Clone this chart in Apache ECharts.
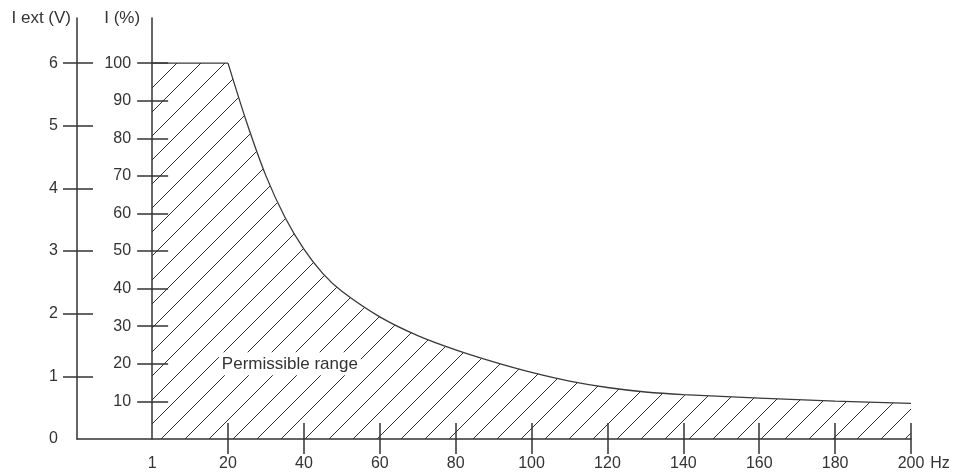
<!DOCTYPE html>
<html>
<head>
<meta charset="utf-8">
<script src="https://cdn.jsdelivr.net/npm/echarts@6/dist/echarts.min.js"></script>
<style>
  html, body { margin: 0; padding: 0; background: #fff; }
  #chart { width: 957px; height: 476px; }
</style>
</head>
<body>
<div id="chart"></div>
<script>
// ---- data ----
const freqTicks = [20, 40, 60, 80, 100, 120, 140, 160, 180, 200];
const freqLabels = [0, 20, 40, 60, 80, 100, 120, 140, 160, 180, 200];
const voltTicks = [1, 2, 3, 4, 5, 6];
const voltLabels = [0, 1, 2, 3, 4, 5, 6];
const pctTicks = [10, 20, 30, 40, 50, 60, 70, 80, 90, 100];

// flat part of the permissible range
const flatFreq = [0, 20];
const flatPct = [100, 100];
// falling part
const curveFreq = [20, 25, 30, 35, 40, 45, 50, 60, 70, 80, 90, 100, 110, 120, 130, 140, 160, 180, 200];
const curvePct  = [100, 84, 70, 59, 50.5, 44, 39.3, 32.5, 27.5, 23.7, 20.5, 17.7, 15.4, 13.7, 12.5, 11.8, 10.9, 10.1, 9.5];

const rangeLabel = 'Permissible range';
const rangeLabelPos = [36.3, 20];

// ---- chart ----
const INK = '#333';
const FONT = '"Liberation Sans", Arial, Helvetica, sans-serif';

function hatch() {
  const s = 24;
  const c = document.createElement('canvas');
  c.width = s; c.height = s;
  const g = c.getContext('2d');
  g.strokeStyle = '#333';
  g.lineWidth = 1;
  g.beginPath();
  g.moveTo(-2, s + 2); g.lineTo(s + 2, -2);
  g.moveTo(-2, 2); g.lineTo(2, -2);
  g.moveTo(s - 2, s + 2); g.lineTo(s + 2, s - 2);
  g.stroke();
  return c;
}
const pattern = { image: hatch(), repeat: 'repeat' };

const axisLine = { show: true, onZero: false, lineStyle: { color: INK, width: 1.5 } };
const hiddenLine = { show: false, onZero: false };
const tickStyle = { color: INK, width: 1.5 };

const W = 957, GL = 77, GR = 46;
const X_MIN = -19.8, X_MAX = 200;
const V_MAX = 6.72, P_MAX = 112;
// inner axis sits at frequency "1" (value 0)
const innerOffset = -((W - GL - GR) * (0 - X_MIN) / (X_MAX - X_MIN));

const chart = echarts.init(document.getElementById('chart'), null, { renderer: 'canvas' });
chart.setOption({
  animation: false,
  backgroundColor: '#fff',
  textStyle: { fontFamily: FONT },
  grid: { left: GL, right: GR, top: 18, bottom: 37, containLabel: false },
  xAxis: [
    {
      type: 'value', min: X_MIN, max: X_MAX, position: 'bottom',
      axisLine: axisLine,
      axisTick: { show: true, customValues: freqTicks, length: 15, lineStyle: tickStyle },
      axisLabel: {
        show: true, customValues: freqLabels, margin: 17,
        color: INK, fontSize: 16, fontFamily: FONT,
        formatter: v => (v === 0 ? '1' : String(v))
      },
      splitLine: { show: false },
      name: 'Hz', nameLocation: 'end', nameGap: 19,
      nameTextStyle: { color: INK, fontSize: 16, fontFamily: FONT, align: 'left', verticalAlign: 'top', padding: [17, 0, 0, 0] }
    },
    {
      type: 'value', min: X_MIN, max: X_MAX, position: 'bottom',
      axisLine: hiddenLine,
      axisTick: { show: true, inside: true, customValues: freqTicks, length: 16, lineStyle: tickStyle },
      axisLabel: { show: false },
      splitLine: { show: false }
    }
  ],
  yAxis: [
    {
      type: 'value', min: 0, max: V_MAX, position: 'left',
      axisLine: axisLine,
      axisTick: { show: true, customValues: voltTicks, length: 14, lineStyle: tickStyle },
      axisLabel: { show: true, customValues: voltLabels, margin: 19, color: INK, fontSize: 16, fontFamily: FONT },
      splitLine: { show: false },
      name: 'I ext (V)', nameLocation: 'end', nameGap: 0,
      nameTextStyle: { color: INK, fontSize: 17, fontFamily: FONT, align: 'right', verticalAlign: 'middle', padding: [0, 6, 0, 0] }
    },
    {
      type: 'value', min: 0, max: V_MAX, position: 'left',
      axisLine: hiddenLine,
      axisTick: { show: true, inside: true, customValues: voltTicks, length: 16, lineStyle: tickStyle },
      axisLabel: { show: false },
      splitLine: { show: false }
    },
    {
      type: 'value', min: 0, max: P_MAX, position: 'left', offset: innerOffset,
      axisLine: axisLine,
      axisTick: { show: true, customValues: pctTicks, length: 15, lineStyle: tickStyle },
      axisLabel: { show: true, customValues: pctTicks, margin: 21, color: INK, fontSize: 16, fontFamily: FONT },
      splitLine: { show: false },
      name: 'I (%)', nameLocation: 'end', nameGap: 0,
      nameTextStyle: { color: INK, fontSize: 17, fontFamily: FONT, align: 'right', verticalAlign: 'middle', padding: [0, 12, 0, 0] }
    },
    {
      type: 'value', min: 0, max: P_MAX, position: 'left', offset: innerOffset,
      axisLine: hiddenLine,
      axisTick: { show: true, inside: true, customValues: pctTicks, length: 16, lineStyle: tickStyle },
      axisLabel: { show: false },
      splitLine: { show: false }
    }
  ],
  series: [
    {
      type: 'line',
      xAxisIndex: 0,
      yAxisIndex: 2,
      data: flatFreq.map((f, i) => [f, flatPct[i]]),
      symbol: 'none',
      lineStyle: { color: '#3a3a3a', width: 1.3 },
      areaStyle: { color: pattern, opacity: 1 },
      z: 1
    },
    {
      type: 'line',
      xAxisIndex: 0,
      yAxisIndex: 2,
      data: curveFreq.map((f, i) => [f, curvePct[i]]),
      symbol: 'none',
      smooth: 0.3,
      lineStyle: { color: '#3a3a3a', width: 1.3 },
      areaStyle: { color: pattern, opacity: 1 },
      z: 1,
      markPoint: {
        symbol: 'circle', symbolSize: 1,
        itemStyle: { color: 'rgba(0,0,0,0)' },
        label: {
          show: true, position: 'inside', formatter: rangeLabel,
          color: INK, fontSize: 17, fontFamily: FONT,
          backgroundColor: '#fff', padding: [3, 3]
        },
        data: [{ coord: rangeLabelPos }]
      }
    }
  ]
});
</script>
</body>
</html>
